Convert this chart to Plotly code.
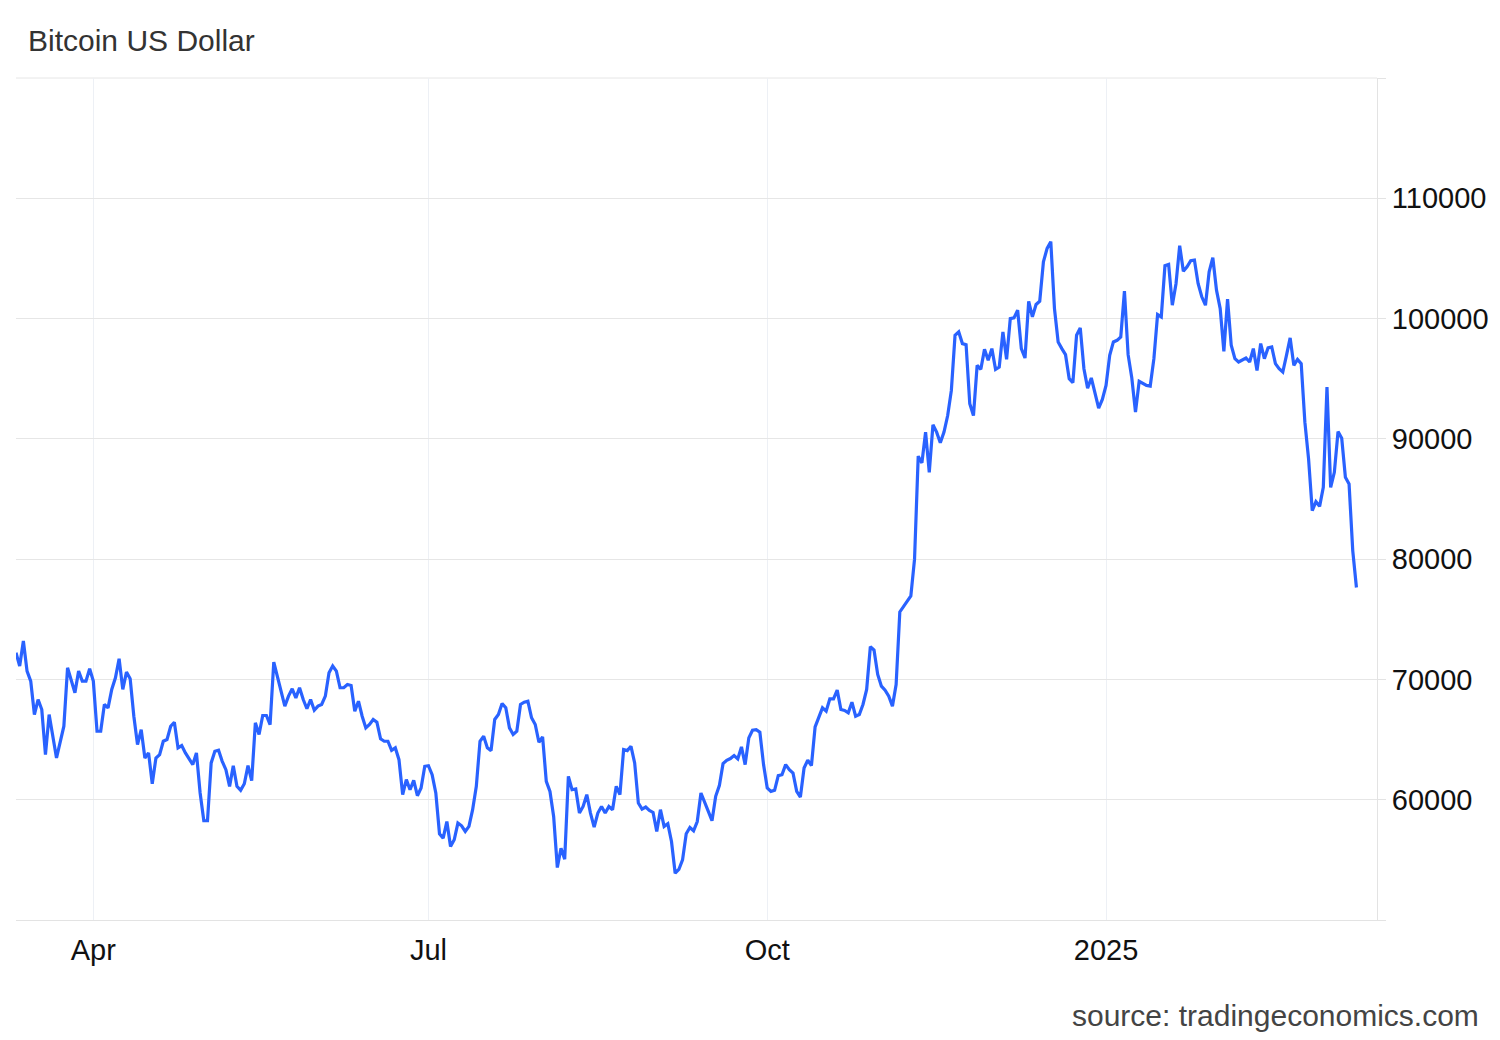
import plotly.graph_objects as go

dates = [
    "2024-03-11", "2024-03-12", "2024-03-13", "2024-03-14", "2024-03-15", "2024-03-16", "2024-03-17",
    "2024-03-18", "2024-03-19", "2024-03-20", "2024-03-22", "2024-03-24", "2024-03-25", "2024-03-27",
    "2024-03-28", "2024-03-29", "2024-03-30", "2024-03-31",
    "2024-04-01", "2024-04-02", "2024-04-03", "2024-04-04", "2024-04-05", "2024-04-06", "2024-04-07",
    "2024-04-08", "2024-04-09", "2024-04-10", "2024-04-11", "2024-04-12", "2024-04-13", "2024-04-14",
    "2024-04-15", "2024-04-16", "2024-04-17", "2024-04-18", "2024-04-19", "2024-04-20", "2024-04-21",
    "2024-04-22", "2024-04-23", "2024-04-24", "2024-04-25", "2024-04-26", "2024-04-28", "2024-04-29",
    "2024-04-30",
    "2024-05-01", "2024-05-02", "2024-05-03", "2024-05-04", "2024-05-05", "2024-05-06", "2024-05-07",
    "2024-05-08", "2024-05-09", "2024-05-10", "2024-05-11", "2024-05-12", "2024-05-13", "2024-05-14",
    "2024-05-15", "2024-05-16", "2024-05-17", "2024-05-18", "2024-05-19", "2024-05-20", "2024-05-21",
    "2024-05-22", "2024-05-23", "2024-05-24", "2024-05-25", "2024-05-26", "2024-05-27", "2024-05-28",
    "2024-05-29", "2024-05-30", "2024-05-31",
    "2024-06-01", "2024-06-02", "2024-06-03", "2024-06-04", "2024-06-05", "2024-06-06", "2024-06-07",
    "2024-06-08", "2024-06-09", "2024-06-10", "2024-06-11", "2024-06-12", "2024-06-13", "2024-06-14",
    "2024-06-15", "2024-06-16", "2024-06-17", "2024-06-18", "2024-06-19", "2024-06-20", "2024-06-21",
    "2024-06-22", "2024-06-23", "2024-06-24", "2024-06-25", "2024-06-26", "2024-06-27", "2024-06-28",
    "2024-06-29", "2024-06-30",
    "2024-07-01", "2024-07-02", "2024-07-03", "2024-07-04", "2024-07-05", "2024-07-06", "2024-07-07",
    "2024-07-08", "2024-07-09", "2024-07-10", "2024-07-11", "2024-07-12", "2024-07-13", "2024-07-14",
    "2024-07-15", "2024-07-16", "2024-07-17", "2024-07-18", "2024-07-19", "2024-07-20", "2024-07-21",
    "2024-07-22", "2024-07-23", "2024-07-24", "2024-07-25", "2024-07-26", "2024-07-27", "2024-07-28",
    "2024-07-29", "2024-07-30", "2024-07-31",
    "2024-08-01", "2024-08-02", "2024-08-03", "2024-08-04", "2024-08-05", "2024-08-06", "2024-08-07",
    "2024-08-08", "2024-08-09", "2024-08-10", "2024-08-11", "2024-08-12", "2024-08-13", "2024-08-14",
    "2024-08-15", "2024-08-16", "2024-08-17", "2024-08-18", "2024-08-19", "2024-08-20", "2024-08-21",
    "2024-08-22", "2024-08-23", "2024-08-24", "2024-08-25", "2024-08-26", "2024-08-27", "2024-08-28",
    "2024-08-29", "2024-08-30", "2024-08-31",
    "2024-09-01", "2024-09-02", "2024-09-03", "2024-09-04", "2024-09-05", "2024-09-06", "2024-09-07",
    "2024-09-08", "2024-09-09", "2024-09-10", "2024-09-11", "2024-09-12", "2024-09-13", "2024-09-14",
    "2024-09-15", "2024-09-16", "2024-09-17", "2024-09-18", "2024-09-19", "2024-09-20", "2024-09-21",
    "2024-09-22", "2024-09-23", "2024-09-24", "2024-09-25", "2024-09-26", "2024-09-27", "2024-09-28",
    "2024-09-29", "2024-09-30",
    "2024-10-01", "2024-10-02", "2024-10-03", "2024-10-04", "2024-10-05", "2024-10-06", "2024-10-07",
    "2024-10-08", "2024-10-09", "2024-10-10", "2024-10-11", "2024-10-12", "2024-10-13", "2024-10-14",
    "2024-10-15", "2024-10-16", "2024-10-17", "2024-10-18", "2024-10-19", "2024-10-20", "2024-10-21",
    "2024-10-22", "2024-10-23", "2024-10-24", "2024-10-25", "2024-10-26", "2024-10-27", "2024-10-28",
    "2024-10-29", "2024-10-30", "2024-10-31",
    "2024-11-01", "2024-11-02", "2024-11-03", "2024-11-04", "2024-11-05", "2024-11-06", "2024-11-07",
    "2024-11-08", "2024-11-09", "2024-11-10", "2024-11-11", "2024-11-12", "2024-11-13", "2024-11-14",
    "2024-11-15", "2024-11-16", "2024-11-17", "2024-11-18", "2024-11-19", "2024-11-20", "2024-11-21",
    "2024-11-22", "2024-11-23", "2024-11-24", "2024-11-25", "2024-11-26", "2024-11-27", "2024-11-28",
    "2024-11-29", "2024-11-30",
    "2024-12-01", "2024-12-02", "2024-12-03", "2024-12-04", "2024-12-05", "2024-12-06", "2024-12-07",
    "2024-12-08", "2024-12-09", "2024-12-10", "2024-12-11", "2024-12-12", "2024-12-13", "2024-12-14",
    "2024-12-15", "2024-12-16", "2024-12-17", "2024-12-18", "2024-12-19", "2024-12-20", "2024-12-21",
    "2024-12-22", "2024-12-23", "2024-12-24", "2024-12-25", "2024-12-26", "2024-12-27", "2024-12-28",
    "2024-12-29", "2024-12-30", "2024-12-31",
    "2025-01-01", "2025-01-02", "2025-01-03", "2025-01-04", "2025-01-05", "2025-01-06", "2025-01-07",
    "2025-01-08", "2025-01-09", "2025-01-10", "2025-01-11", "2025-01-12", "2025-01-13", "2025-01-14",
    "2025-01-15", "2025-01-16", "2025-01-17", "2025-01-18", "2025-01-19", "2025-01-20", "2025-01-21",
    "2025-01-22", "2025-01-23", "2025-01-24", "2025-01-25", "2025-01-26", "2025-01-27", "2025-01-28",
    "2025-01-29", "2025-01-30", "2025-01-31",
    "2025-02-01", "2025-02-02", "2025-02-03", "2025-02-04", "2025-02-05", "2025-02-06", "2025-02-07",
    "2025-02-08", "2025-02-09", "2025-02-10", "2025-02-11", "2025-02-12", "2025-02-13", "2025-02-14",
    "2025-02-15", "2025-02-16", "2025-02-17", "2025-02-18", "2025-02-19", "2025-02-20", "2025-02-21",
    "2025-02-22", "2025-02-23", "2025-02-24", "2025-02-25", "2025-02-26", "2025-02-27", "2025-02-28",
    "2025-03-01", "2025-03-02", "2025-03-03", "2025-03-04", "2025-03-05", "2025-03-06", "2025-03-07",
    "2025-03-08", "2025-03-09", "2025-03-10",
]

prices = [
    72220, 71110, 73190, 70690, 69860, 67080, 68330,
    67500, 63750, 67080, 63470, 66110, 70970, 68890,
    70690, 69860, 69860, 70890,
    69860, 65690, 65690, 67920, 67640, 69170, 70140,
    71720, 69170, 70610, 70060, 66940, 64580, 65830,
    63470, 63890, 61330, 63470, 63750, 64860, 65000,
    66110, 66440, 64310, 64500, 63890, 62920, 63890,
    60560,
    58250, 58250, 63060, 64030, 64110, 63190, 62500,
    61110, 62830, 61110, 60780, 61330, 62830, 61580,
    66390, 65420, 67000, 67000, 66250, 71440, 70280,
    69170, 67780, 68610, 69220, 68470, 69310, 68330,
    67560, 68330, 67440,
    67780, 67920, 68610, 70560, 71110, 70690, 69310,
    69310, 69580, 69500, 67360, 68190, 66940, 65970,
    66250, 66670, 66440, 65060, 64860, 64860, 64110,
    64310, 63330, 60420, 61670, 60830, 61610, 60330,
    60970, 62780,
    62830, 62080, 60560, 57170, 56810, 58190, 56110,
    56670, 58060, 57830, 57360, 57780, 59170, 61110,
    64860, 65280, 64310, 64080, 66670, 67080, 68000,
    67640, 65970, 65420, 65690, 67920, 68110, 68190,
    66810, 66250, 64780,
    65220, 61530, 60690, 58610, 54360, 55970, 55060,
    61940, 60830, 60890, 58890, 59440, 60420, 58890,
    57720, 58890, 59440, 58890, 59440, 59170, 61110,
    60420, 64170, 64080, 64440, 63060, 59720, 59220,
    59390, 59110, 58940,
    57360, 59170, 57780, 58000, 56530, 53890, 54200,
    55000, 57170, 57690, 57420, 58190, 60560, 59860,
    59030, 58250, 60280, 61170, 63000, 63280, 63420,
    63670, 63390, 64390, 62920, 65140, 65780, 65830,
    65610, 62920,
    60970, 60690, 60780, 62000, 62080, 62920, 62500,
    62220, 60690, 60220, 62640, 63280, 62830, 66060,
    66890, 67640, 67360, 68390, 68390, 69110, 67500,
    67420, 67220, 68110, 66940, 67080, 67920, 69170,
    72720, 72440, 70420,
    69440, 69110, 68610, 67780, 69580, 75610, 76060,
    76530, 76940, 80000, 88560, 88000, 90560, 87220,
    91170, 90560, 89670, 90560, 91940, 94030, 98610,
    98890, 97920, 97830, 92920, 91940, 96110, 95780,
    97440, 96530,
    97500, 95780, 95970, 98890, 96610, 100000, 100060,
    100690, 97500, 96720, 101440, 100140, 101170, 101440,
    104720, 105830, 106390, 100830, 98060, 97500, 97000,
    95000, 94670, 98610, 99220, 95830, 94220, 95060,
    93670, 92560, 93280,
    94440, 96940, 98060, 98190, 98470, 102280, 97000,
    95060, 92220, 94780, 94580, 94440, 94390, 96670,
    100330, 100140, 104390, 104500, 101110, 102900, 106060,
    103940, 104310, 104810, 104860, 102920, 101810, 101110,
    103890, 105060, 102360,
    100830, 97280, 101610, 97780, 96670, 96390, 96530,
    96720, 96390, 97500, 95690, 97920, 96670, 97560,
    97640, 96250, 95830, 95560, 96940, 98390, 96110,
    96610, 96250, 91390, 88330, 84030, 84780, 84390,
    85970, 94310, 85970, 87220, 90610, 90060, 86810,
    86250, 80690, 77640,
]

x_tick_dates = ["2024-04-01", "2024-07-01", "2024-10-01", "2025-01-01"]
x_tick_labels = ["Apr", "Jul", "Oct", "2025"]
y_tick_values = [50000, 60000, 70000, 80000, 90000, 100000, 110000, 120000]
y_tick_labels = ["", "60000", "70000", "80000", "90000", "100000", "110000", ""]

title_text = "Bitcoin US Dollar"
source_text = "source: tradingeconomics.com"

FONT = "Liberation Sans, Arial, Helvetica, sans-serif"
PLOT_L, PLOT_R, PLOT_T, PLOT_B = 16, 1377, 78, 920
PW, PH = PLOT_R - PLOT_L, PLOT_B - PLOT_T
GRID = "#e6e6e6"

fig = go.Figure()
fig.add_trace(go.Scatter(
    x=dates, y=prices, mode="lines",
    line=dict(color="#2962ff", width=3.2),
    hoverinfo="x+y", showlegend=False,
))

fig.update_layout(
    width=1500, height=1040,
    margin=dict(l=PLOT_L, r=1500 - PLOT_R, t=PLOT_T, b=1040 - PLOT_B, pad=0, autoexpand=False),
    plot_bgcolor="white", paper_bgcolor="white",
    font=dict(family=FONT, size=29, color="#111111"),
    showlegend=False,
)

fig.update_xaxes(
    type="date",
    range=["2024-03-11", "2025-03-15 14:00"],
    tickmode="array", tickvals=x_tick_dates, ticktext=x_tick_labels,
    showgrid=True, gridcolor="#edf0f5", gridwidth=1,
    showline=True, linecolor="#e3e3e3", linewidth=1,
    ticks="", zeroline=False, automargin=False,
    tickfont=dict(family=FONT, size=29, color="#111111"),
    ticklabelstandoff=4,
)

fig.update_yaxes(
    side="right",
    range=[50000, 120000],
    tickmode="array", tickvals=y_tick_values, ticktext=y_tick_labels,
    showgrid=True, gridcolor=GRID, gridwidth=1,
    showline=True, linecolor="#e3e3e3", linewidth=1,
    ticks="outside", ticklen=8, tickcolor="#e3e3e3", tickwidth=1,
    zeroline=False, automargin=False,
    tickfont=dict(family=FONT, size=29, color="#111111"),
    ticklabelstandoff=0,
)

# top frame line (the 120000 grid line at the upper edge of the plot)
fig.add_shape(
    type="line", xref="paper", yref="paper",
    x0=0, x1=1, y0=1, y1=1,
    line=dict(color=GRID, width=1), layer="below",
)

fig.add_annotation(
    text=title_text, xref="paper", yref="paper",
    x=(26 - PLOT_L) / PW, y=(PLOT_B - 40) / PH,
    xanchor="left", yanchor="middle", showarrow=False,
    font=dict(family=FONT, size=30, color="#333333"),
)
fig.add_annotation(
    text=source_text, xref="paper", yref="paper",
    x=(1481 - PLOT_L) / PW, y=(PLOT_B - 1015) / PH,
    xanchor="right", yanchor="middle", showarrow=False,
    font=dict(family=FONT, size=30, color="#444444"),
)

fig.write_html(
    "out.html",
    config={"displayModeBar": False},
    post_script="document.body.style.margin='0';document.body.style.overflow='hidden';",
)
